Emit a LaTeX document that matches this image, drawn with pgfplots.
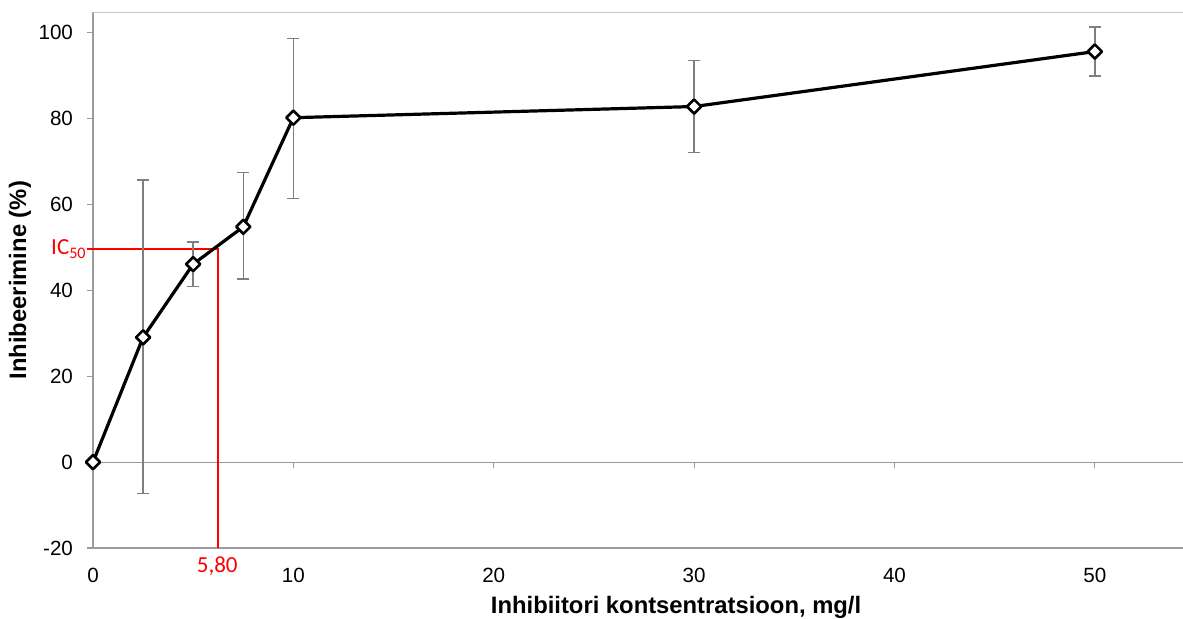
\documentclass[border=0pt]{standalone}
\usepackage{fontspec}
\setmainfont{Liberation Sans}
\newfontfamily\calibri{Carlito}
\usepackage{pgfplots}
\usepackage{pgfplotstable}
\pgfplotsset{compat=1.18}
\definecolor{axisgray}{HTML}{9A9A9A}
\definecolor{topgray}{HTML}{C8C8C8}
\definecolor{errgray}{HTML}{7F7F7F}
\definecolor{icred}{HTML}{FF0000}

% x, mean, error up, error down
\pgfplotstableread{
x y ep em
0 0 0 0
2.5 29.05 36.65 36.35
5 46.1 5.2 5.2
7.5 54.8 12.6 12.2
10 80.2 18.4 18.8
30 82.8 10.7 10.7
50 95.6 5.7 5.7
}\inhib

\begin{document}
\begin{tikzpicture}
\begin{axis}[
    at={(0,0)}, anchor=south west,
    width=545pt, height=267.75pt, scale only axis,
    xmin=0, xmax=54.4, ymin=-20, ymax=104.7,
    axis lines=left,
    axis line style={-, axisgray, line width=0.6pt},
    xtick={0,10,...,50}, ytick={-20,0,...,100},
    tick align=outside,
    major tick length=3pt,
    xtick style={draw=none},
    ytick style={axisgray, line width=0.6pt},
    tick label style={font=\fontsize{10.3}{12}\selectfont},
    /pgf/number format/assume math mode=true,
    xticklabel style={anchor=center, yshift=-10.5pt},
    yticklabel style={anchor=east, xshift=-3.5pt},
    clip=false,
]
% frame top and zero line
\draw[topgray, line width=0.6pt] (rel axis cs:0,1) -- (rel axis cs:1,1);
\draw[axisgray, line width=0.6pt] (axis cs:0,0) -- (axis cs:54.4,0);
\pgfplotsinvokeforeach{10,20,30,40,50}{
  \draw[axisgray, line width=0.6pt] (axis cs:#1,0) -- ([yshift=-3pt]axis cs:#1,0);
}

% IC50 guide
\draw[draw=icred, line width=0.7pt] (axis cs:-0.3,49.6) -- (axis cs:6.24,49.6) -- (axis cs:6.24,-20);

\addplot[black, line width=1.6pt, line join=round,
    mark=square*, mark size=2.5pt,
    mark options={rotate=45, fill=white, draw=black, line width=1.3pt, solid},
    error bars/.cd, y dir=both, y explicit,
    error bar style={errgray, line width=0.7pt},
    error mark options={rotate=90, errgray, mark size=3pt, line width=0.7pt}]
  table[x=x, y=y, y error plus=ep, y error minus=em] {\inhib};

\node[icred, anchor=east, inner sep=0pt, font=\calibri\fontsize{11.5}{13}\selectfont]
  at ([xshift=-3pt]axis cs:0,49.6) {IC\textsubscript{50}};
\node[icred, inner sep=0pt, font=\calibri\fontsize{11.5}{13}\selectfont]
  at ([yshift=-9pt]axis cs:6.2,-20) {5,80};

\node[rotate=90, inner sep=0pt, font=\bfseries\fontsize{11.9}{13}\selectfont]
  at ([xshift=-36.5pt]rel axis cs:0,0.5) {Inhibeerimine (\%)};
\node[inner sep=0pt, font=\bfseries\fontsize{11.9}{13}\selectfont]
  at ([yshift=-29.5pt]axis cs:29.1,-20) {Inhibiitori kontsentratsioon, mg/l};
\end{axis}
\pgfresetboundingbox
\path (-46.5pt,-35.5pt) rectangle (545pt,274pt);
\end{tikzpicture}
\end{document}
